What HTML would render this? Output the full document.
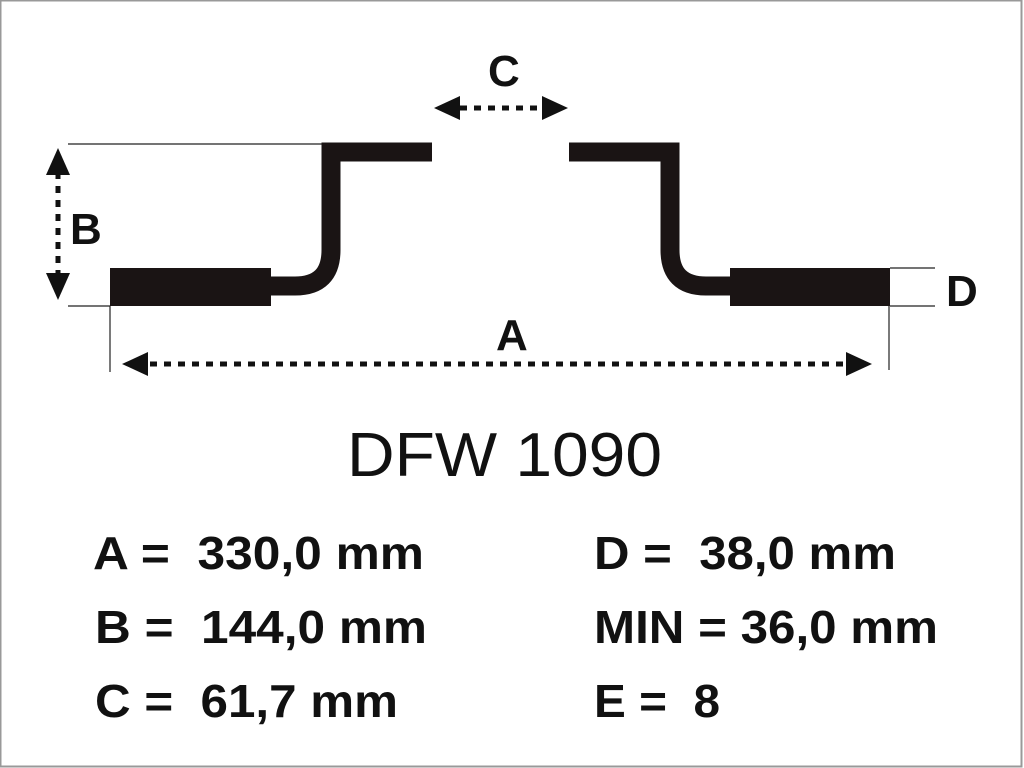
<!DOCTYPE html>
<html><head><style>
html,body{margin:0;padding:0;background:#fff;}
svg{display:block;}
text{font-family:"Liberation Sans",Arial,sans-serif;fill:#111;}
</style></head><body>
<svg width="1024" height="768" viewBox="0 0 1024 768" xmlns="http://www.w3.org/2000/svg">
<rect x="0" y="0" width="1024" height="768" fill="#fff"/>
<rect x="0.5" y="0.5" width="1021" height="766" fill="none" stroke="#999" stroke-width="2"/>
<!-- thin extension lines -->
<g stroke="#222" stroke-width="1.2">
<line x1="68" y1="144" x2="322" y2="144"/>
<line x1="68" y1="306" x2="110" y2="306"/>
<line x1="110" y1="306" x2="110" y2="372"/>
<line x1="890" y1="268" x2="935" y2="268"/>
<line x1="890" y1="306" x2="935" y2="306"/>
<line x1="889" y1="306" x2="889" y2="370"/>
</g>
<!-- disc profile -->
<g fill="none" stroke="#1a1414" stroke-width="19">
<path d="M432 152 H331 V250 Q331 286 295 286 H268"/>
<path d="M569 152 H670 V250 Q670 286 706 286 H732"/>
</g>
<rect x="110" y="268" width="161" height="38" fill="#1a1414"/>
<rect x="730" y="268" width="160" height="38" fill="#1a1414"/>
<!-- dotted dimension lines -->
<g stroke="#111" stroke-width="5" stroke-dasharray="7 7">
<line x1="58" y1="172" x2="58" y2="278"/>
<line x1="460" y1="108" x2="545" y2="108"/>
<line x1="150" y1="364" x2="848" y2="364"/>
</g>
<g fill="#111">
<polygon points="58,148 46,175 70,175"/>
<polygon points="58,300 46,273 70,273"/>
<polygon points="434,108 460,96 460,120"/>
<polygon points="568,108 542,96 542,120"/>
<polygon points="122,364 148,352 148,376"/>
<polygon points="872,364 846,352 846,376"/>
</g>
<g font-weight="bold" font-size="44">
<text x="488" y="86">C</text>
<text x="70" y="244">B</text>
<text x="496" y="350">A</text>
<text x="946" y="306">D</text>
</g>
<text x="347" y="476" font-size="62" textLength="315" lengthAdjust="spacingAndGlyphs">DFW 1090</text>
<g font-weight="bold" font-size="46" lengthAdjust="spacingAndGlyphs">
<text x="93" y="569" textLength="331" lengthAdjust="spacingAndGlyphs" xml:space="preserve">A =  330,0 mm</text>
<text x="95" y="643" textLength="332" lengthAdjust="spacingAndGlyphs" xml:space="preserve">B =  144,0 mm</text>
<text x="95" y="717" textLength="303" lengthAdjust="spacingAndGlyphs" xml:space="preserve">C =  61,7 mm</text>
<text x="594" y="569" textLength="302" lengthAdjust="spacingAndGlyphs" xml:space="preserve">D =  38,0 mm</text>
<text x="594" y="643" textLength="344" lengthAdjust="spacingAndGlyphs">MIN = 36,0 mm</text>
<text x="594" y="717" textLength="126" lengthAdjust="spacingAndGlyphs" xml:space="preserve">E =  8</text>
</g>
</svg>
</body></html>
